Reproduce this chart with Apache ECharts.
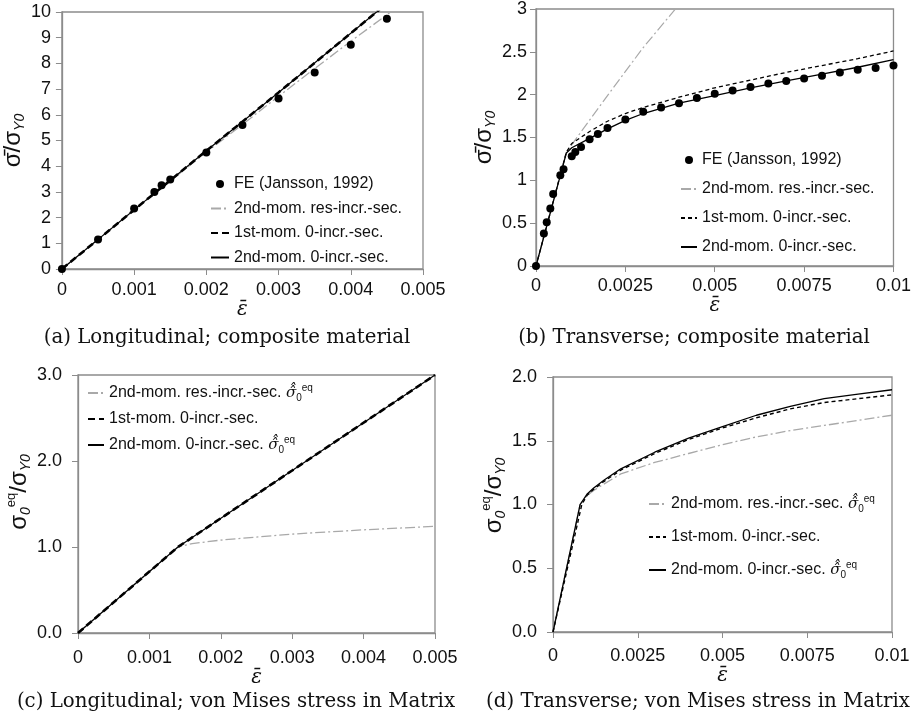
<!DOCTYPE html>
<html>
<head>
<meta charset="utf-8">
<script src="https://cdn.jsdelivr.net/npm/echarts@6/dist/echarts.min.js"></script>
<style>
  html, body { margin: 0; background: #fff; }
  #chart { width: 914px; height: 721px; }
</style>
</head>
<body>
<div id="chart"></div>
<script>
// (a) longitudinal, composite material
const feLong = [[0,0],[0.0005,1.15],[0.001,2.35],[0.00128,3.0],[0.00138,3.26],[0.0015,3.48],[0.002,4.53],[0.0025,5.6],[0.003,6.63],[0.0035,7.65],[0.004,8.73],[0.0045,9.74]];
const resLong = [[0,0],[0.001,2.3],[0.002,4.55],[0.0025,5.62],[0.003,6.72],[0.0035,7.8],[0.004,8.86],[0.0046,10.1]];
const firstLong = [[0,0],[0.001,2.3],[0.002,4.6],[0.003,6.87],[0.004,9.17],[0.0044,10.1]];
const secondLong = [[0,0],[0.001,2.3],[0.002,4.6],[0.003,6.87],[0.004,9.17],[0.0044,10.1]];

// (b) transverse, composite material
const feTrans = [[0,0],[0.00022,0.38],[0.0003,0.51],[0.0004,0.67],[0.00048,0.84],[0.00068,1.06],[0.00077,1.13],[0.001,1.28],[0.0011,1.33],[0.00126,1.39],[0.0015,1.48],[0.00173,1.54],[0.002,1.61],[0.0025,1.71],[0.003,1.8],[0.0035,1.85],[0.004,1.9],[0.0045,1.96],[0.005,2.01],[0.0055,2.05],[0.006,2.09],[0.0065,2.13],[0.007,2.16],[0.0075,2.19],[0.008,2.22],[0.0085,2.26],[0.009,2.29],[0.0095,2.31],[0.01,2.34]];
const resTrans = [[0,0],[0.00085,1.33],[0.002,1.99],[0.003,2.55],[0.0041,3.1]];
const firstTrans = [[0,0],[0.00085,1.33],[0.001,1.43],[0.0015,1.57],[0.002,1.69],[0.0025,1.78],[0.003,1.85],[0.004,1.97],[0.005,2.08],[0.006,2.17],[0.007,2.26],[0.008,2.34],[0.009,2.42],[0.01,2.51]];
const secondTrans = [[0,0],[0.00085,1.32],[0.001,1.38],[0.0015,1.49],[0.002,1.6],[0.0025,1.7],[0.003,1.78],[0.004,1.9],[0.005,1.99],[0.006,2.08],[0.007,2.16],[0.008,2.24],[0.009,2.32],[0.01,2.41]];

// (c) longitudinal, von Mises stress in matrix
const resMatLong = [[0,0],[0.0014,1.0],[0.0016,1.04],[0.002,1.08],[0.003,1.15],[0.004,1.2],[0.005,1.24]];
const firstMatLong = [[0,0],[0.0014,1.0],[0.003,1.89],[0.005,3.0]];
const secondMatLong = [[0,0],[0.0014,1.0],[0.003,1.89],[0.005,3.0]];

// (d) transverse, von Mises stress in matrix
const resMatTrans = [[0,0],[0.0008,1.0],[0.001,1.07],[0.0012,1.11],[0.0015,1.16],[0.002,1.24],[0.003,1.33],[0.004,1.4],[0.005,1.47],[0.006,1.53],[0.007,1.58],[0.008,1.62],[0.009,1.66],[0.01,1.7]];
const firstMatTrans = [[0,0],[0.00085,1.0],[0.001,1.07],[0.0012,1.12],[0.0015,1.18],[0.002,1.27],[0.003,1.4],[0.004,1.51],[0.005,1.6],[0.006,1.68],[0.007,1.75],[0.008,1.8],[0.009,1.83],[0.01,1.86]];
const secondMatTrans = [[0,0],[0.0008,1.0],[0.001,1.08],[0.0012,1.13],[0.0015,1.19],[0.002,1.28],[0.003,1.41],[0.004,1.52],[0.005,1.61],[0.006,1.7],[0.007,1.77],[0.008,1.83],[0.009,1.865],[0.01,1.9]];

const captions = [
  '(a) Longitudinal; composite material',
  '(b) Transverse; composite material',
  '(c) Longitudinal; von Mises stress in Matrix',
  '(d) Transverse; von Mises stress in Matrix'
];

const hatSig = ' {h|σ\u0302\u0302}{sb|0}{sp|eq}';
const labels = {
  aFE: 'FE (Jansson, 1992)', aRes: '2nd-mom. res-incr.-sec.', aFirst: '1st-mom. 0-incr.-sec.', aSecond: '2nd-mom. 0-incr.-sec.',
  bFE: 'FE (Jansson, 1992)', bRes: '2nd-mom. res.-incr.-sec.', bFirst: '1st-mom. 0-incr.-sec.', bSecond: '2nd-mom. 0-incr.-sec.',
  cRes: '2nd-mom. res.-incr.-sec.' + hatSig, cFirst: '1st-mom. 0-incr.-sec.', cSecond: '2nd-mom. 0-incr.-sec.' + hatSig,
  dRes: '2nd-mom. res.-incr.-sec.' + hatSig, dFirst: '1st-mom. 0-incr.-sec.', dSecond: '2nd-mom. 0-incr.-sec.' + hatSig
};

const GRAY = '#a9a9a9';
const AXIS = '#8c8c8c';
const SANS = 'Liberation Sans';

const chart = echarts.init(document.getElementById('chart'));

function xAx(grid, max, interval, gap, margin) {
  return {
    type: 'value', gridIndex: grid, min: 0, max: max, interval: interval,
    name: 'ε\u0304', nameLocation: 'middle', nameGap: gap,
    nameTextStyle: { fontFamily: 'DejaVu Serif', fontStyle: 'italic', fontSize: 20, color: '#111' },
    axisLine: { lineStyle: { color: AXIS, width: 1.3 } },
    axisTick: { show: true, inside: false, length: 6, lineStyle: { color: AXIS } },
    axisLabel: { fontFamily: SANS, fontSize: 18, color: '#111', margin: margin, showMaxLabel: true, showMinLabel: true },
    splitLine: { show: false }
  };
}
function yAx(grid, max, interval, name, gap, margin, fixed, shift) {
  return {
    type: 'value', gridIndex: grid, min: 0, max: max, interval: interval,
    name: name, nameLocation: 'middle', nameGap: gap, nameRotate: 90,
    nameTextStyle: {
      color: '#111',
      padding: [0, 0, 0, shift],
      rich: {
        m: { fontFamily: SANS, fontSize: 24, color: '#111', lineHeight: 28, verticalAlign: 'middle' },
        s: { fontFamily: SANS, fontSize: 14, fontStyle: 'italic', color: '#111', lineHeight: 28, verticalAlign: 'bottom' },
        p: { fontFamily: SANS, fontSize: 13, color: '#111', lineHeight: 28, verticalAlign: 'top' }
      }
    },
    axisLine: { lineStyle: { color: AXIS, width: 1.3 } },
    axisTick: { show: true, inside: false, length: 6, lineStyle: { color: AXIS } },
    axisLabel: {
      fontFamily: SANS, fontSize: 18, color: '#111', margin: margin,
      formatter: fixed ? (v => v.toFixed(1)) : null
    },
    splitLine: { show: false }
  };
}
function legend(ids, left, top, gap, w) {
  return {
    // line entries hide the round marker ECharts puts in the middle of a line icon
    data: ids.map(n => n.endsWith('FE') ? n : { name: n, itemStyle: { opacity: 0 } }),
    left: left, top: top, orient: 'vertical', itemGap: gap,
    itemWidth: w, itemHeight: 8, padding: 0,
    formatter: n => {
      const s = labels[n];
      const i = s.indexOf(' {');
      return i < 0 ? '{t|' + s + '}' : '{t|' + s.slice(0, i) + '}' + s.slice(i);
    },
    textStyle: {
      fontFamily: SANS, fontSize: 16, color: '#111',
      rich: {
        t: { fontFamily: SANS, fontSize: 16, color: '#111', lineHeight: 20 },
        h: { fontFamily: 'DejaVu Serif', fontStyle: 'italic', fontSize: 15, color: '#111', lineHeight: 20 },
        sb: { fontFamily: SANS, fontSize: 10, color: '#111', lineHeight: 20, verticalAlign: 'bottom' },
        sp: { fontFamily: SANS, fontSize: 10, color: '#111', lineHeight: 20, verticalAlign: 'top' }
      }
    }
  };
}
function dots(name, axis, data) {
  return { name: name, type: 'scatter', xAxisIndex: axis, yAxisIndex: axis, data: data,
    symbol: 'circle', symbolSize: 8, itemStyle: { color: '#000', opacity: 1 }, z: 5 };
}
function line(name, axis, data, color, width, type) {
  return { name: name, type: 'line', xAxisIndex: axis, yAxisIndex: axis, data: data,
    symbol: 'none', clip: true, lineStyle: { color: color, width: width, type: type },
    itemStyle: { color: color } };
}

const dashDot = [10, 3, 2, 3];
const thickDash = [7, 4];
const thinDash = [4, 3];

chart.setOption({
  animation: false,
  textStyle: { fontFamily: SANS },
  grid: [
    { left: 61, top: 12, width: 362, height: 257, show: true, borderColor: AXIS, borderWidth: 1.3 },
    { left: 536, top: 6, width: 362, height: 260, show: true, borderColor: AXIS, borderWidth: 1.3 },
    { left: 78, top: 375, width: 357, height: 258, show: true, borderColor: AXIS, borderWidth: 1.3 },
    { left: 553, top: 377, width: 339, height: 255, show: true, borderColor: AXIS, borderWidth: 1.3 }
  ],
  xAxis: [
    xAx(0, 0.005, 0.001, 23, 12),
    xAx(1, 0.01, 0.0025, 24, 11),
    xAx(2, 0.005, 0.001, 22, 16),
    xAx(3, 0.01, 0.0025, 22, 15)
  ],
  yAxis: [
    yAx(0, 10, 1, '{m|σ\u0304/σ}{s|Y0}', 34, 11, false, 0),
    yAx(1, 3, 0.5, '{m|σ\u0304/σ}{s|Y0}', 38, 9, false, 0),
    yAx(2, 3, 1, '{m|σ}{s|0}{p|eq}{m|/σ}{s|Y0}', 38, 16, true, 24),
    yAx(3, 2, 0.5, '{m|σ}{s|0}{p|eq}{m|/σ}{s|Y0}', 40, 16, true, 18)
  ],
  legend: [
    legend(['aFE', 'aRes', 'aFirst', 'aSecond'], 210, 176, 8.5, 18),
    legend(['bFE', 'bRes', 'bFirst', 'bSecond'], 680, 152, 13, 16),
    legend(['cRes', 'cFirst', 'cSecond'], 87, 383, 8, 16),
    legend(['dRes', 'dFirst', 'dSecond'], 648, 494, 15, 17)
  ],
  title: [
    { text: captions[0], left: 227, top: 328, textAlign: 'center' },
    { text: captions[1], left: 694, top: 328, textAlign: 'center' },
    { text: captions[2], left: 236, top: 692, textAlign: 'center' },
    { text: captions[3], left: 698, top: 692, textAlign: 'center' }
  ].map(t => Object.assign(t, { padding: 0, textStyle: { fontFamily: 'DejaVu Serif', fontWeight: 'normal', fontSize: 19.8, color: '#111' } })),
  series: [
    line('aRes', 0, resLong, GRAY, 1.3, dashDot),
    line('aFirst', 0, firstLong, '#000', 2.6, thickDash),
    line('aSecond', 0, secondLong, '#000', 1.2, 'solid'),
    dots('aFE', 0, feLong),

    line('bRes', 1, resTrans, GRAY, 1.2, dashDot),
    line('bFirst', 1, firstTrans, '#000', 1.3, thinDash),
    line('bSecond', 1, secondTrans, '#000', 1.3, 'solid'),
    dots('bFE', 1, feTrans),

    line('cRes', 2, resMatLong, GRAY, 1.3, dashDot),
    line('cFirst', 2, firstMatLong, '#000', 2.6, thickDash),
    line('cSecond', 2, secondMatLong, '#000', 1.2, 'solid'),

    line('dRes', 3, resMatTrans, GRAY, 1.3, dashDot),
    line('dFirst', 3, firstMatTrans, '#000', 1.4, thinDash),
    line('dSecond', 3, secondMatTrans, '#000', 1.3, 'solid')
  ]
});
</script>
</body>
</html>
